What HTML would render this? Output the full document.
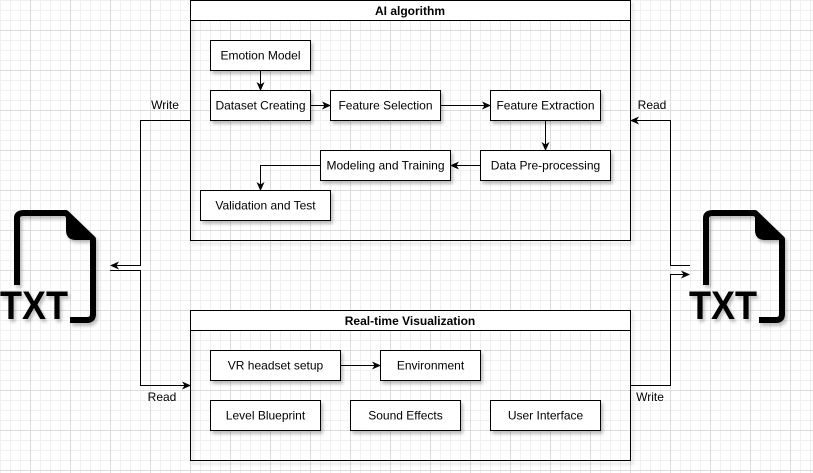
<!DOCTYPE html>
<html><head><meta charset="utf-8"><style>
body{margin:0;background:#fff}
svg{display:block;font-family:"Liberation Sans",Arial,sans-serif}
</style></head><body>
<svg width="813" height="473" viewBox="0 0 813 473" xmlns="http://www.w3.org/2000/svg">
<defs>
<pattern id="minor" width="10" height="10" patternUnits="userSpaceOnUse" x="0" y="0">
<path d="M0.5 0V10M0 0.5H10" stroke="#f0f0f0" stroke-width="1" fill="none"/>
</pattern>
<pattern id="major" width="40" height="40" patternUnits="userSpaceOnUse" x="-10" y="-10">
<path d="M0.5 0V40M0 0.5H40" stroke="#dcdcdc" stroke-width="1" fill="none"/>
</pattern>
<marker id="a" markerWidth="10" markerHeight="10" refX="8" refY="5" orient="auto" markerUnits="userSpaceOnUse">
<path d="M0,1 L9,5 L0,9 L2.5,5 Z" fill="#000"/>
</marker>
<filter id="sh" x="-10%" y="-10%" width="130%" height="140%">
<feDropShadow dx="2" dy="3" stdDeviation="1.5" flood-color="#000" flood-opacity="0.25"/>
</filter>
</defs>
<rect width="813" height="473" fill="url(#minor)"/>
<rect width="813" height="473" fill="url(#major)"/>

<g fill="none" stroke="#000" stroke-width="1">
<!-- containers -->
<rect x="190.5" y="0.5" width="440" height="240" filter="url(#sh)"/>
<rect x="190.5" y="0.5" width="440" height="20" fill="#fff"/>
<rect x="190.5" y="310.5" width="440" height="150" filter="url(#sh)"/>
<rect x="190.5" y="310.5" width="440" height="20" fill="#fff"/>
</g>
<g font-size="12" font-weight="bold" text-anchor="middle">
<text x="410" y="15">AI algorithm</text>
<text x="410" y="325">Real-time Visualization</text>
</g>

<g fill="#fff" stroke="#000" stroke-width="1" filter="url(#sh)">
<rect x="210.5" y="40.5" width="100" height="30"/>
<rect x="210.5" y="90.5" width="100" height="30"/>
<rect x="330.5" y="90.5" width="110" height="30"/>
<rect x="490.5" y="90.5" width="110" height="30"/>
<rect x="480.5" y="150.5" width="130" height="30"/>
<rect x="320.5" y="150.5" width="130" height="30"/>
<rect x="200.5" y="190.5" width="130" height="30"/>
<rect x="210.5" y="350.5" width="130" height="30"/>
<rect x="380.5" y="350.5" width="100" height="30"/>
<rect x="210.5" y="400.5" width="110" height="30"/>
<rect x="350.5" y="400.5" width="110" height="30"/>
<rect x="490.5" y="400.5" width="110" height="30"/>
</g>
<g font-size="12" text-anchor="middle">
<text x="260.5" y="59.5">Emotion Model</text>
<text x="260.5" y="109.5">Dataset Creating</text>
<text x="385.5" y="109.5">Feature Selection</text>
<text x="545.5" y="109.5">Feature Extraction</text>
<text x="545.5" y="169.5">Data Pre-processing</text>
<text x="385.5" y="169.5">Modeling and Training</text>
<text x="265.5" y="209.5">Validation and Test</text>
<text x="275.5" y="369.5">VR headset setup</text>
<text x="430.5" y="369.5">Environment</text>
<text x="265.5" y="419.5">Level Blueprint</text>
<text x="405.5" y="419.5">Sound Effects</text>
<text x="545.5" y="419.5">User Interface</text>
</g>

<g fill="none" stroke="#000" stroke-width="1" marker-end="url(#a)">
<path d="M260.5 70.5V90"/>
<path d="M310.5 105.5H330"/>
<path d="M440.5 105.5H490"/>
<path d="M545.5 120.5V150"/>
<path d="M480.5 165.5H451"/>
<path d="M320.5 165.5H260.5V190"/>
<path d="M340.5 365.5H380"/>
<!-- left -->
<path d="M190.5 120.5H140.5V265.5H111"/>
<path d="M110 270.5H140.5V385.5H190"/>
<!-- right -->
<path d="M690 265.5H670.5V120.5H631"/>
<path d="M630.5 385.5H670.5V274.5H689"/>
</g>
<g font-size="12" text-anchor="middle">
<text x="165" y="109">Write</text>
<text x="162" y="401">Read</text>
<text x="652" y="109">Read</text>
<text x="650" y="401">Write</text>
</g>

<!-- TXT icons -->
<g filter="url(#sh)">
<g fill="none" stroke="#000" stroke-width="6" stroke-linejoin="round">
<path d="M17 285V218Q17 213 24 213H66L93 239V314Q93 320 87 320H70"/>
<path d="M706 285V218Q706 213 713 213H755L782 239V314Q782 320 776 320H759"/>
</g>
<path d="M66 213V230Q66 240 76 240H93Z" fill="#000"/>
<path d="M755 213V230Q755 240 765 240H782Z" fill="#000"/>
<g font-size="40" font-weight="bold" text-anchor="middle" fill="#000">
<text x="34" y="319" textLength="68" lengthAdjust="spacingAndGlyphs">TXT</text>
<text x="723" y="319" textLength="68" lengthAdjust="spacingAndGlyphs">TXT</text>
</g>
</g>
</svg>
</body></html>
